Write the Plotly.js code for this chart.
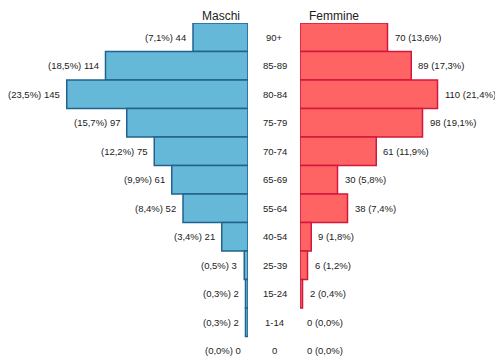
<!DOCTYPE html>
<html><head><meta charset="utf-8">
<script src="https://cdn.plot.ly/plotly-3.0.1.min.js"></script>
<style>html,body{margin:0;padding:0;background:#fff}</style>
</head><body><div id="chart" style="width:495px;height:358px"></div>
<script>
const categories = ["90+","85-89","80-84","75-79","70-74","65-69","55-64","40-54","25-39","15-24","1-14","0"];
const maschi = [44,114,145,97,75,61,52,21,3,2,2,0];
const maschiPct = ["7,1%","18,5%","23,5%","15,7%","12,2%","9,9%","8,4%","3,4%","0,5%","0,3%","0,3%","0,0%"];
const femmine = [70,89,110,98,61,30,38,9,6,2,0,0];
const femminePct = ["13,6%","17,3%","21,4%","19,1%","11,9%","5,8%","7,4%","1,8%","1,2%","0,4%","0,0%","0,0%"];

const W = 495, H = 358;
const idx = categories.map((c,i)=>i);
const font = {family:"Liberation Sans, Arial, sans-serif", size:9.5, color:"#222"};

const traces = [
  {type:"bar", orientation:"h", x:maschi, y:idx, xaxis:"x", yaxis:"y",
   marker:{color:"#66b8d9", line:{color:"#22628f", width:maschi.map(v=>v>0?1.5:0)}}, hoverinfo:"none"},
  {type:"bar", orientation:"h", x:femmine, y:idx, xaxis:"x2", yaxis:"y",
   marker:{color:"#ff6464", line:{color:"#d4173c", width:femmine.map(v=>v>0?1.5:0)}}, hoverinfo:"none"}
];

const ann = [];
idx.forEach(i=>{
  ann.push({x:maschi[i], y:i, xref:"x", yref:"y", xanchor:"right", yanchor:"middle",
    xshift:-5, text:"("+maschiPct[i]+") "+maschi[i], showarrow:false, font:font});
  ann.push({x:femmine[i], y:i, xref:"x2", yref:"y", xanchor:"left", yanchor:"middle",
    xshift:5, text:femmine[i]+" ("+femminePct[i]+")", showarrow:false, font:font});
  ann.push({x:274.5/W, y:i, xref:"paper", yref:"y", xanchor:"center", yanchor:"middle",
    text:categories[i], showarrow:false, font:font});
});
const plotTop = 23, plotH = H - plotTop;
ann.push({x:242/W, y:1+(plotTop-16)/plotH, xref:"paper", yref:"paper", xanchor:"right", yanchor:"middle",
  text:"Maschi", showarrow:false, font:{family:font.family, size:12, color:"#222"}});
ann.push({x:307/W, y:1+(plotTop-16)/plotH, xref:"paper", yref:"paper", xanchor:"left", yanchor:"middle",
  text:"Femmine", showarrow:false, font:{family:font.family, size:12, color:"#222"}});

const pxPerUnit = 1.25, rowPx = 28.5;
const layout = {
  width:W, height:H, margin:{l:0,r:0,t:plotTop,b:0}, showlegend:false,
  paper_bgcolor:"#fff", plot_bgcolor:"#fff", bargap:0,
  xaxis:{domain:[0,248/W], range:[248/pxPerUnit,0], showgrid:false, zeroline:false, showticklabels:false, fixedrange:true},
  xaxis2:{domain:[300/W,1], range:[0,195/pxPerUnit], showgrid:false, zeroline:false, showticklabels:false, fixedrange:true},
  yaxis:{range:[-0.5+plotH/rowPx,-0.5], showgrid:false, zeroline:false, showticklabels:false, fixedrange:true},
  annotations:ann
};
Plotly.newPlot("chart", traces, layout, {displayModeBar:false, staticPlot:true});
</script></body></html>
